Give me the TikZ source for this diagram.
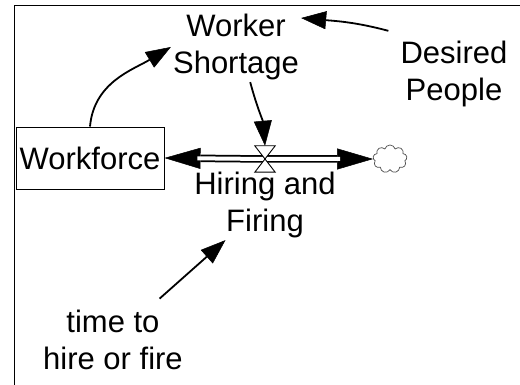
\documentclass[tikz,border=0pt]{standalone}
\usepackage{fontspec}
\setmainfont{Liberation Sans}
\usetikzlibrary{arrows.meta,shapes.symbols,calc}
\begin{document}
\begin{tikzpicture}[x=1pt,y=1pt,
  lbl/.style={font=\fontsize{31}{37}\selectfont, align=center, inner sep=2pt},
  stock/.style={draw, line width=0.9pt, minimum width=148pt, minimum height=62pt, inner sep=0pt, font=\fontsize{31}{37}\selectfont},
  link/.style={line width=1.8pt, -{Triangle[length=25pt,width=18pt,line width=0.5pt]}},
  pipeout/.style={line width=7.5pt, -{Triangle[length=36pt,width=21pt,line width=0.5pt]}},
  pipein/.style={line width=4pt, white, shorten >=33pt},
  frame/.style={line width=1pt}]
\useasboundingbox (0,0) rectangle (520,385);
% frame
\coordinate (fl) at (14,0);
\coordinate (fc) at (14,379);
\coordinate (fr) at (521,379);
\draw[frame] (fl) -- (fc) -- (fr);
% nodes
\node[stock] (wf) at (90,227) {Workforce};
\node[lbl] (ws) at (236,338) {Worker\\Shortage};
\node[lbl] (dp) at (454,311) {Desired\\People};
\node[lbl] (hf) at (265,180) {Hiring and\\Firing};
\node[lbl] (tt) at (113,45) {time to\\hire or fire};
\node[cloud, cloud puffs=9, draw=black!70, line width=0.7pt, minimum width=34pt, minimum height=28pt, inner sep=0pt] (cl) at (390,226) {};
\node[inner sep=0pt, minimum width=20pt, minimum height=26pt] (valve) at (265,226) {};
% pipe
\draw[pipeout] (valve.center) -- (wf.east);
\draw[pipein] (valve.center) -- (wf.east);
\draw[pipeout] (valve.center) -- (cl.west);
\draw[pipein] (valve.center) -- (cl.west);
% valve
\draw[fill=white, line width=0.9pt] (valve.north west) -- (valve.north east) -- (valve.south west) -- (valve.south east) -- cycle;
% links
\draw[link] (wf.north) to[out=85, in=211] (ws.west);
\draw[link] ($(dp.north west)+(-10,8)$) to[out=165, in=-5] (ws.24);
\draw[link] (ws.-68) to[out=-75, in=95] (valve.north);
\draw[link, shorten <=14pt] (tt) -- (hf);
\end{tikzpicture}
\end{document}
